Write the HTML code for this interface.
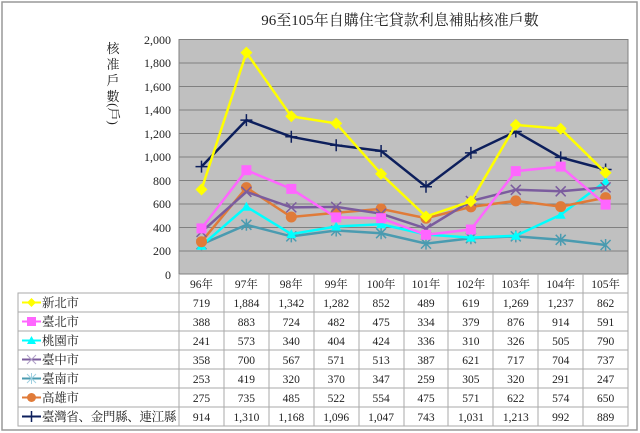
<!DOCTYPE html>
<html><head><meta charset="utf-8"><style>
body{margin:0;background:#fff}
svg{display:block}
text{font-family:"Liberation Serif","Noto Serif CJK SC","Noto Sans CJK TC",serif;fill:#222}
</style></head><body>
<svg width="640" height="433" viewBox="0 0 640 433" xmlns="http://www.w3.org/2000/svg">
<defs>
<marker id="dia" markerUnits="userSpaceOnUse" markerWidth="14" markerHeight="14" refX="7" refY="7"><path d="M7 1L13 7L7 13L1 7Z" fill="#ffff00"/></marker>
<marker id="sq" markerUnits="userSpaceOnUse" markerWidth="14" markerHeight="14" refX="7" refY="7"><rect x="2" y="2" width="10" height="10" fill="#ff66ff"/></marker>
<marker id="tri" markerUnits="userSpaceOnUse" markerWidth="14" markerHeight="14" refX="7" refY="7"><path d="M7 2L12 11L2 11Z" fill="#00ffff"/></marker>
<marker id="x" markerUnits="userSpaceOnUse" markerWidth="14" markerHeight="14" refX="7" refY="7"><path d="M2 2L12 12M12 2L2 12" stroke="#7b5c9e" stroke-width="1.5"/></marker>
<marker id="ast" markerUnits="userSpaceOnUse" markerWidth="14" markerHeight="14" refX="7" refY="7"><path d="M2 2L12 12M12 2L2 12M7 1V13" stroke="#4a9bb0" stroke-width="1.5"/></marker>
<marker id="cir" markerUnits="userSpaceOnUse" markerWidth="14" markerHeight="14" refX="7" refY="7"><circle cx="7" cy="7" r="5.5" fill="#e07b39"/></marker>
<marker id="plus" markerUnits="userSpaceOnUse" markerWidth="14" markerHeight="14" refX="7" refY="7"><path d="M7 1V13M1 7H13" stroke="#0d1f5c" stroke-width="1.5"/></marker>
</defs>
<rect x="2" y="2" width="635" height="428" fill="#fff" stroke="#999" stroke-width="1.5"/>
<text x="400" y="25" font-size="15" text-anchor="middle">96至105年自購住宅貸款利息補貼核准戶數</text>
<g font-size="13" text-anchor="middle"><text x="113" y="53">核</text><text x="113" y="69">准</text><text x="113" y="85">戶</text><text x="113" y="101">數</text><text x="113" y="118" transform="rotate(90 113 114)">(戶)</text></g>
<rect x="179" y="39.5" width="449" height="234.5" fill="#c0c0c0" stroke="#808080"/>
<g stroke="#808080" stroke-width="1">
<line x1="179" y1="63" x2="628" y2="63"/><line x1="179" y1="86.5" x2="628" y2="86.5"/><line x1="179" y1="110" x2="628" y2="110"/><line x1="179" y1="133.5" x2="628" y2="133.5"/><line x1="179" y1="157" x2="628" y2="157"/><line x1="179" y1="180.5" x2="628" y2="180.5"/><line x1="179" y1="204" x2="628" y2="204"/><line x1="179" y1="227.5" x2="628" y2="227.5"/><line x1="179" y1="251" x2="628" y2="251"/>
</g>
<g font-size="12" text-anchor="end">
<text x="171" y="44">2,000</text><text x="171" y="67">1,800</text><text x="171" y="91">1,600</text><text x="171" y="114">1,400</text><text x="171" y="138">1,200</text><text x="171" y="161">1,000</text><text x="171" y="185">800</text><text x="171" y="208">600</text><text x="171" y="232">400</text><text x="171" y="255">200</text><text x="171" y="279">0</text>
</g>
<g fill="none" stroke-width="2.5">
<polyline stroke="#0d1f5c" marker-start="url(#plus)" marker-mid="url(#plus)" marker-end="url(#plus)" points="201.5,166.6 246.4,120.1 291.3,136.8 336.2,145.2 381.1,151 426,186.7 470.9,152.9 515.8,131.5 560.7,157.4 605.6,169.5"/>
<polyline stroke="#4a9bb0" marker-start="url(#ast)" marker-mid="url(#ast)" marker-end="url(#ast)" points="201.5,244.3 246.4,224.8 291.3,236.4 336.2,230.5 381.1,233.2 426,243.6 470.9,238.2 515.8,236.4 560.7,239.8 605.6,245"/>
<polyline stroke="#00ffff" marker-start="url(#tri)" marker-mid="url(#tri)" marker-end="url(#tri)" points="201.5,245.7 246.4,206.7 291.3,234.1 336.2,226.5 381.1,224.2 426,234.5 470.9,237.6 515.8,235.7 560.7,214.7 605.6,181.2"/>
<polyline stroke="#e07b39" marker-start="url(#cir)" marker-mid="url(#cir)" marker-end="url(#cir)" points="201.5,241.7 246.4,187.6 291.3,217 336.2,212.7 381.1,208.9 426,218.2 470.9,206.9 515.8,200.9 560.7,206.6 605.6,197.6"/>
<polyline stroke="#7b5c9e" marker-start="url(#x)" marker-mid="url(#x)" marker-end="url(#x)" points="201.5,231.9 246.4,191.8 291.3,207.4 336.2,206.9 381.1,213.7 426,228.5 470.9,201 515.8,189.8 560.7,191.3 605.6,187.4"/>
<polyline stroke="#ff66ff" marker-start="url(#sq)" marker-mid="url(#sq)" marker-end="url(#sq)" points="201.5,228.4 246.4,170.2 291.3,188.9 336.2,217.4 381.1,218.2 426,234.8 470.9,229.5 515.8,171.1 560.7,166.6 605.6,204.6"/>
<polyline stroke="#ffff00" marker-start="url(#dia)" marker-mid="url(#dia)" marker-end="url(#dia)" points="201.5,189.5 246.4,52.6 291.3,116.3 336.2,123.4 381.1,173.9 426,216.5 470.9,201.3 515.8,124.9 560.7,128.7 605.6,172.7"/>
</g>
<g stroke="#aaa" stroke-width="1" fill="none">
<rect x="18" y="293" width="610" height="133"/>
<line x1="179" y1="274" x2="179" y2="426"/><line x1="628" y1="274" x2="628" y2="293"/>
<line x1="224" y1="274" x2="224" y2="426"/><line x1="269" y1="274" x2="269" y2="426"/><line x1="314" y1="274" x2="314" y2="426"/><line x1="359" y1="274" x2="359" y2="426"/><line x1="404" y1="274" x2="404" y2="426"/><line x1="448" y1="274" x2="448" y2="426"/><line x1="493" y1="274" x2="493" y2="426"/><line x1="538" y1="274" x2="538" y2="426"/><line x1="583" y1="274" x2="583" y2="426"/>
<line x1="18" y1="312" x2="628" y2="312"/><line x1="18" y1="331" x2="628" y2="331"/><line x1="18" y1="350" x2="628" y2="350"/><line x1="18" y1="369" x2="628" y2="369"/><line x1="18" y1="388" x2="628" y2="388"/><line x1="18" y1="407" x2="628" y2="407"/>
</g>
<g font-size="11.5" text-anchor="middle">
<text x="201.5" y="288">96年</text><text x="246.4" y="288">97年</text><text x="291.3" y="288">98年</text><text x="336.2" y="288">99年</text><text x="381.1" y="288">100年</text><text x="426" y="288">101年</text><text x="470.9" y="288">102年</text><text x="515.8" y="288">103年</text><text x="560.7" y="288">104年</text><text x="605.6" y="288">105年</text>
<g transform="translate(0,307)"><text x="201.5">719</text><text x="246.4">1,884</text><text x="291.3">1,342</text><text x="336.2">1,282</text><text x="381.1">852</text><text x="426">489</text><text x="470.9">619</text><text x="515.8">1,269</text><text x="560.7">1,237</text><text x="605.6">862</text></g>
<g transform="translate(0,326)"><text x="201.5">388</text><text x="246.4">883</text><text x="291.3">724</text><text x="336.2">482</text><text x="381.1">475</text><text x="426">334</text><text x="470.9">379</text><text x="515.8">876</text><text x="560.7">914</text><text x="605.6">591</text></g>
<g transform="translate(0,345)"><text x="201.5">241</text><text x="246.4">573</text><text x="291.3">340</text><text x="336.2">404</text><text x="381.1">424</text><text x="426">336</text><text x="470.9">310</text><text x="515.8">326</text><text x="560.7">505</text><text x="605.6">790</text></g>
<g transform="translate(0,364)"><text x="201.5">358</text><text x="246.4">700</text><text x="291.3">567</text><text x="336.2">571</text><text x="381.1">513</text><text x="426">387</text><text x="470.9">621</text><text x="515.8">717</text><text x="560.7">704</text><text x="605.6">737</text></g>
<g transform="translate(0,383)"><text x="201.5">253</text><text x="246.4">419</text><text x="291.3">320</text><text x="336.2">370</text><text x="381.1">347</text><text x="426">259</text><text x="470.9">305</text><text x="515.8">320</text><text x="560.7">291</text><text x="605.6">247</text></g>
<g transform="translate(0,402)"><text x="201.5">275</text><text x="246.4">735</text><text x="291.3">485</text><text x="336.2">522</text><text x="381.1">554</text><text x="426">475</text><text x="470.9">571</text><text x="515.8">622</text><text x="560.7">574</text><text x="605.6">650</text></g>
<g transform="translate(0,421)"><text x="201.5">914</text><text x="246.4">1,310</text><text x="291.3">1,168</text><text x="336.2">1,096</text><text x="381.1">1,047</text><text x="426">743</text><text x="470.9">1,031</text><text x="515.8">1,213</text><text x="560.7">992</text><text x="605.6">889</text></g>
</g>
<g stroke-width="2">
<line x1="22" y1="302.5" x2="41" y2="302.5" stroke="#ffff00"/><path d="M31.5 298L36 302.5L31.5 307L27 302.5Z" fill="#ffff00"/>
<line x1="22" y1="321.5" x2="41" y2="321.5" stroke="#ff66ff"/><rect x="27" y="317" width="9" height="9" fill="#ff66ff"/>
<line x1="22" y1="340.5" x2="41" y2="340.5" stroke="#00ffff"/><path d="M31.5 336L36 344L27 344Z" fill="#00ffff"/>
<line x1="22" y1="359.5" x2="41" y2="359.5" stroke="#7b5c9e"/><path d="M27 355L36 364M36 355L27 364" stroke="#b0a0c8" stroke-width="1"/>
<line x1="22" y1="378.5" x2="41" y2="378.5" stroke="#4a9bb0"/><path d="M27 374L36 383M36 374L27 383M31.5 373V384" stroke="#9fd0e0" stroke-width="1"/>
<line x1="22" y1="397.5" x2="41" y2="397.5" stroke="#e07b39"/><circle cx="31.5" cy="397.5" r="4.5" fill="#e07b39"/>
<line x1="22" y1="416.5" x2="41" y2="416.5" stroke="#0d1f5c"/><path d="M31.5 411V422" stroke="#0d1f5c" stroke-width="1.5"/>
</g>
<g font-size="12.5" letter-spacing="-0.3">
<text x="42" y="307">新北市</text><text x="42" y="326">臺北市</text><text x="42" y="345">桃園市</text><text x="42" y="364">臺中市</text><text x="42" y="383">臺南市</text><text x="42" y="402">高雄市</text><text x="42" y="421" textLength="134" lengthAdjust="spacingAndGlyphs">臺灣省、金門縣、連江縣</text>
</g>
</svg>
</body></html>
